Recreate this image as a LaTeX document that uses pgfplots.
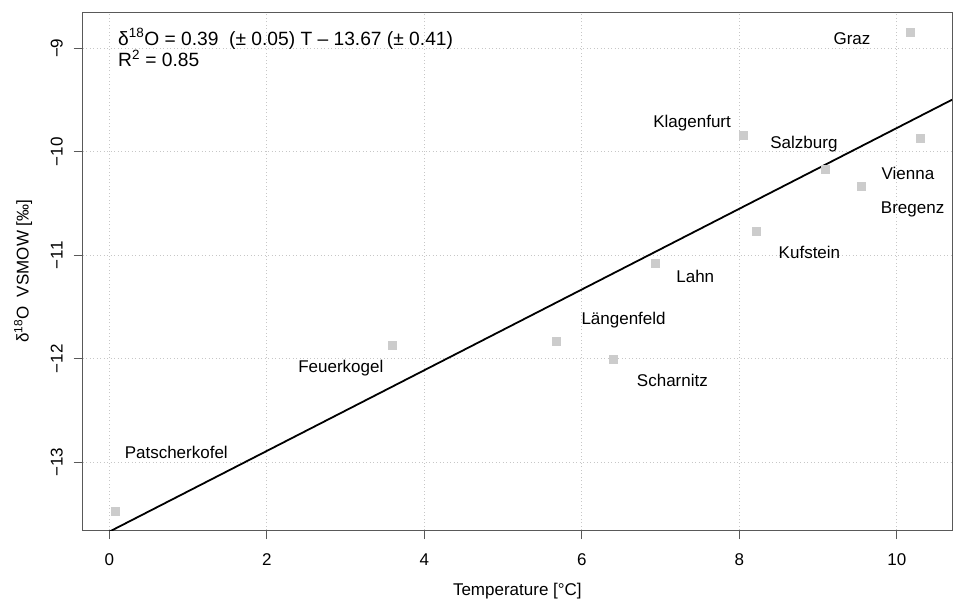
\documentclass[border=0pt]{standalone}
\usepackage{fontspec}
\setmainfont{Liberation Sans}
\usepackage{pgfplots}
\pgfplotsset{compat=1.18}
\begin{document}
\fontsize{17bp}{21bp}\selectfont
\begin{tikzpicture}
\begin{axis}[
  at={(0,0)}, anchor=south west,
  scale only axis, width=869.3bp, height=517.3bp,
  xmin=-0.338, xmax=10.70, ymin=-13.654, ymax=-8.656,
  xtick={0,2,4,6,8,10},
  ytick={-13,-12,-11,-10,-9},
  yticklabels={−13,−12,−11,−10,−9},
  /pgf/number format/assume math mode=true,
  tick align=outside, major tick length=9bp,
  tick style={black!65, line width=0.8bp},
  axis line style={black!65, line width=1bp},
  xtick pos=bottom, ytick pos=left,
  grid=major,
  grid style={black!22, line width=0.8bp, dash pattern=on 1bp off 2.5bp},
  tick label style={font=\fontsize{17bp}{21bp}\selectfont},
  xticklabel style={anchor=base},
  xticklabel shift=26bp,
  yticklabel style={rotate=90, anchor=base},
  yticklabel shift=11bp,
  xlabel={Temperature [°C]},
  ylabel={δ\textsuperscript{18}O\ \ VSMOW [‰]},
  xlabel style={at={(axis description cs:0.5,-0.1257)}, anchor=base},
  ylabel style={at={(axis description cs:-0.0621,0.5)}, anchor=base, rotate=0},
  clip=true,
]
\addplot[black, line width=1.8bp] coordinates {(-0.338,-13.802) (10.70,-9.497)};
\addplot[only marks, mark=square*, mark size=4bp, color=black!20, fill=black!20] coordinates {
  (0.07,-13.47) (3.59,-11.868) (5.67,-11.83) (6.40,-12.003) (6.93,-11.08)
  (8.21,-10.77) (8.05,-9.84) (9.09,-10.167) (9.55,-10.33) (10.17,-8.84) (10.30,-9.865)
};
\node[anchor=base] at (axis cs:9.43,-8.961) {Graz};
\node[anchor=base] at (axis cs:7.40,-9.767) {Klagenfurt};
\node[anchor=base] at (axis cs:8.82,-9.970) {Salzburg};
\node[anchor=base] at (axis cs:10.14,-10.266) {Vienna};
\node[anchor=base] at (axis cs:10.20,-10.594) {Bregenz};
\node[anchor=base] at (axis cs:8.89,-11.033) {Kufstein};
\node[anchor=base] at (axis cs:7.44,-11.265) {Lahn};
\node[anchor=base] at (axis cs:6.53,-11.667) {Längenfeld};
\node[anchor=base] at (axis cs:7.15,-12.263) {Scharnitz};
\node[anchor=base] at (axis cs:2.94,-12.134) {Feuerkogel};
\node[anchor=base] at (axis cs:0.85,-12.965) {Patscherkofel};
\node[anchor=base west, align=left, inner sep=0pt, font=\fontsize{19.2bp}{21.7bp}\selectfont] at (axis cs:0.11,-9.178)
  {δ\textsuperscript{18}O = 0.39\ \ (± 0.05) T – 13.67 (± 0.41)\\R\textsuperscript{2} = 0.85};
\end{axis}
\pgfresetboundingbox
\path[use as bounding box] (-82.7bp,-71bp) rectangle (875.3bp,530bp);
\end{tikzpicture}
\end{document}
